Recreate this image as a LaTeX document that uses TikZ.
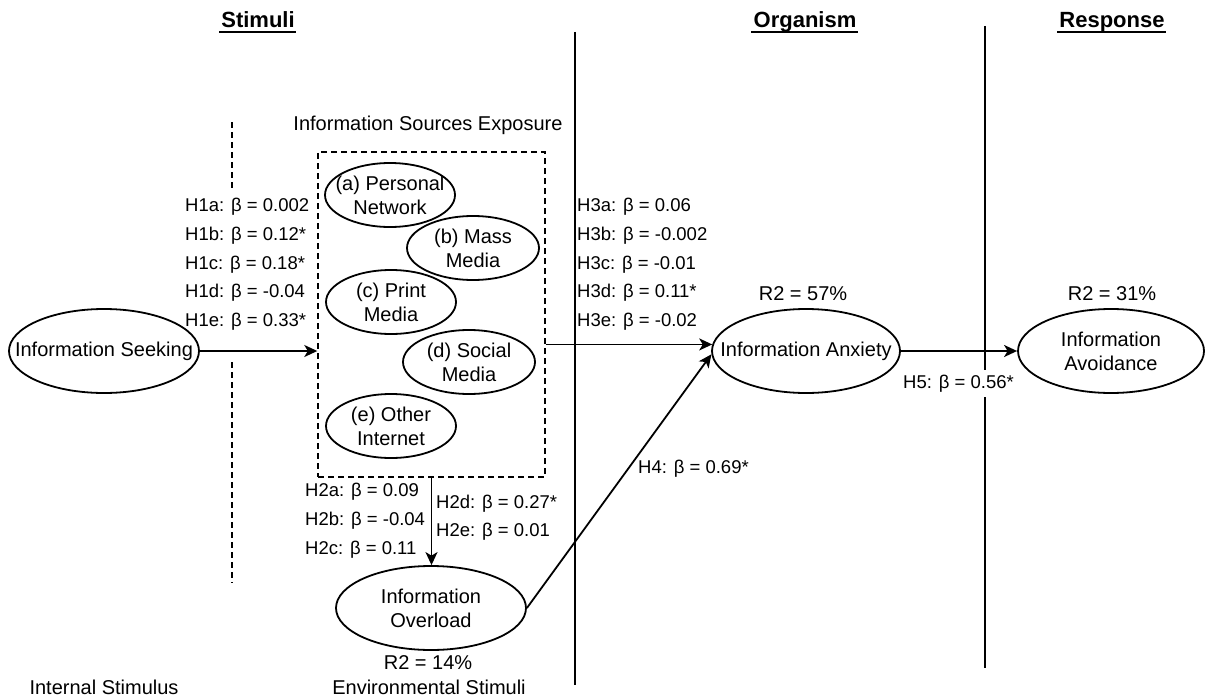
\documentclass[tikz,border=0pt]{standalone}
\usepackage{fontspec}
\setmainfont{Liberation Sans}
\usetikzlibrary{arrows.meta,shapes.geometric,calc}
\begin{document}
\begin{tikzpicture}[x=1pt,y=-1pt,
  ell/.style={draw,ellipse,line width=1.8pt,inner sep=0pt},
  etxt/.style={inner sep=0pt,align=center,font=\fontsize{20}{24}\selectfont},
  lbl/.style={anchor=base west,inner sep=0pt,font=\fontsize{18.5}{22}\selectfont},
  txt/.style={anchor=base,inner sep=0pt,font=\fontsize{20}{24}\selectfont},
  hdr/.style={anchor=base,inner sep=0pt,font=\fontsize{22}{26}\selectfont\bfseries},
  arr/.style={line width=1.8pt,-{Stealth[length=13pt,width=12pt,inset=3.5pt]}},
  sepline/.style={line width=1.7pt},
  dsh/.style={line width=1.4pt,dash pattern=on 6pt off 4pt}
]
\useasboundingbox (0,0) rectangle (1206,698);

% headers
\node[hdr] (hs) at (258,28) {Stimuli};
\node[hdr] (ho) at (805,28) {Organism};
\node[hdr] (hr) at (1112,28) {Response};
\foreach \h in {hs,ho,hr}
  \draw[line width=2pt] ([xshift=-2pt,yshift=-4.5pt]\h.base west) -- ([xshift=1pt,yshift=-4.5pt]\h.base east);

% separators
\draw[sepline] (575,32) -- (575,685);
\draw[sepline] (985,26) -- (985,668);
\draw[dsh] (232,122) -- (232,190);
\draw[dsh] (232,362) -- (232,583);

% box
\node[txt] (ise) at (428,130) {Information Sources Exposure};
\node[draw,dsh,minimum width=227pt,minimum height=325pt,inner sep=0pt] (box) at (431.5,314.5) {};

% ellipses
\node[ell,minimum width=190pt,minimum height=84pt,label={[etxt]center:Information Seeking}] (seek) at (104,351) {};
\node[ell,minimum width=130pt,minimum height=64pt,label={[etxt]center:(a) Personal\\Network}] (ea) at (390,195) {};
\node[ell,minimum width=132pt,minimum height=64pt,label={[etxt]center:(b) Mass\\Media}] (eb) at (473,248) {};
\node[ell,minimum width=130pt,minimum height=64pt,label={[etxt]center:(c) Print\\Media}] (ec) at (391,302) {};
\node[ell,minimum width=132pt,minimum height=64pt,label={[etxt]center:(d) Social\\Media}] (ed) at (469,362) {};
\node[ell,minimum width=130pt,minimum height=64pt,label={[etxt]center:(e) Other\\Internet}] (ee) at (391,426) {};
\node[ell,minimum width=190pt,minimum height=84pt,label={[etxt]center:Information\\Overload}] (over) at (431,608) {};
\node[ell,minimum width=188pt,minimum height=84pt,label={[etxt]center:Information Anxiety}] (anx) at (806,351) {};
\node[ell,minimum width=186pt,minimum height=84pt,label={[etxt]center:Information\\Avoidance}] (avoid) at (1111,351) {};

% connectors
\draw[arr] (seek.east) -- (seek.east -| box.west);
\draw[arr] (box.east |- anx.176) -- (anx.176);
\draw[arr] (box.south) -- (box.south |- over.north);
\draw[arr] (over.east) -- (anx.182);
\draw[arr] (anx.east) -- (avoid.west);

% H1 labels
\node[lbl] (h1a) at (185,211.6) {H1a: β = 0.002};
\node[lbl] (h1b) at (185,240.6) {H1b: β = 0.12*};
\node[lbl] (h1c) at (185,269.6) {H1c: β = 0.18*};
\node[lbl] (h1d) at (185,297.6) {H1d: β = -0.04};
\node[lbl] (h1e) at (185,326.6) {H1e: β = 0.33*};
% H3 labels
\node[lbl] (h3a) at (577,211.6) {H3a: β = 0.06};
\node[lbl] (h3b) at (577,240.6) {H3b: β = -0.002};
\node[lbl] (h3c) at (577,269.6) {H3c: β = -0.01};
\node[lbl] (h3d) at (577,297.6) {H3d: β = 0.11*};
\node[lbl] (h3e) at (577,326.6) {H3e: β = -0.02};
% H2 labels
\node[lbl] (h2a) at (305,496.6) {H2a: β = 0.09};
\node[lbl] (h2b) at (305,525.6) {H2b: β = -0.04};
\node[lbl] (h2c) at (305,554.6) {H2c: β = 0.11};
\node[lbl] (h2d) at (436,508.6) {H2d: β = 0.27*};
\node[lbl] (h2e) at (436,536.6) {H2e: β = 0.01};
% H4, H5
\node[lbl] (h4) at (638,473.6) {H4: β = 0.69*};
\node[lbl,fill=white,inner ysep=5pt] (h5) at (903,388.6) {H5: β = 0.56*};

% R2 and captions
\node[txt] (r57) at (803,300) {R2 = 57\%};
\node[txt] (r31) at (1112,300) {R2 = 31\%};
\node[txt] (r14) at (428,669) {R2 = 14\%};
\node[txt] (env) at (429,694) {Environmental Stimuli};
\node[txt] (int) at (104,694) {Internal Stimulus};
\end{tikzpicture}
\end{document}
